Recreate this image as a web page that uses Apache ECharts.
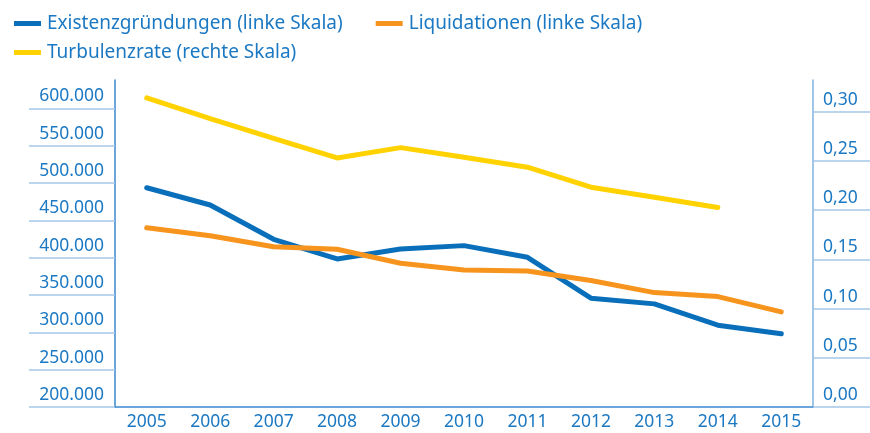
<!DOCTYPE html>
<html>
<head>
<meta charset="utf-8">
<script src="https://cdn.jsdelivr.net/npm/echarts@6/dist/echarts.min.js"></script>
<style>
  html, body { margin: 0; padding: 0; background: #fff; }
  #turbulenz_chart { width: 870px; height: 433px; }
</style>
</head>
<body>
<div id="turbulenz_chart"></div>
<script>
var years = ['2005', '2006', '2007', '2008', '2009', '2010', '2011', '2012', '2013', '2014', '2015'];
var gruendungen = [493600, 470500, 424600, 398300, 411600, 416100, 400500, 345700, 338100, 309600, 298000];
var liquidationen = [440000, 429400, 414700, 411200, 392500, 383600, 382200, 369300, 353200, 347900, 327400];
var turbulenz = [0.314, 0.293, 0.273, 0.253, 0.2635, 0.2537, 0.2436, 0.2233, 0.2131, 0.2026, null];
var leftTicks = [200000, 250000, 300000, 350000, 400000, 450000, 500000, 550000, 600000];
var rightTicks = [0, 0.05, 0.10, 0.15, 0.20, 0.25, 0.30];

var textBlue = '#1b78c2';
var fontName = 'Noto Sans';

var chartTurb = echarts.init(document.getElementById('turbulenz_chart'));

function lineSeries(name, color, data, axis) {
    return {
        name: name,
        type: 'line',
        yAxisIndex: axis,
        data: data,
        symbol: 'none',
        connectNulls: false,
        lineStyle: { color: color, width: 5, cap: 'round', join: 'round' },
        itemStyle: { color: color }
    };
}

var legendBase = {
    left: 9,
    itemWidth: 27,
    itemHeight: 5,
    itemGap: 33,
    icon: 'rect',
    selectedMode: false,
    textStyle: { color: textBlue, fontSize: 19, fontFamily: fontName, padding: [0, 0, 0, 1] }
};

option = {
    animation: false,
    legend: [
        Object.assign({}, legendBase, {
            top: 9,
            data: ['Existenzgründungen (linke Skala)', 'Liquidationen (linke Skala)']
        }),
        Object.assign({}, legendBase, {
            top: 38,
            data: ['Turbulenzrate (rechte Skala)']
        })
    ],
    grid: { left: 115, right: 57, top: 80, bottom: 26 },
    xAxis: {
        type: 'category',
        data: years,
        boundaryGap: true,
        axisLine: { lineStyle: { color: '#3a89cf', width: 1.5 } },
        axisTick: { show: false },
        axisLabel: { color: textBlue, fontSize: 17.5, fontFamily: fontName, margin: 6 }
    },
    yAxis: [
        {
            type: 'value',
            position: 'left',
            min: 200000,
            max: 637900,
            axisLine: { show: true, lineStyle: { color: '#3a89cf', width: 1.5 } },
            axisTick: { show: true, length: 86, customValues: leftTicks, lineStyle: { color: '#a6c7e9', width: 1.5 } },
            axisLabel: {
                customValues: leftTicks,
                color: textBlue, fontSize: 17.5, fontFamily: fontName,
                margin: 11, verticalAlign: 'bottom', lineHeight: 24,
                formatter: function (v) {
                    return String(v).replace(/\B(?=(\d{3})+(?!\d))/g, '.');
                }
            },
            splitLine: { show: false }
        },
        {
            type: 'value',
            position: 'right',
            min: 0,
            max: 0.3322,
            axisLine: { show: true, lineStyle: { color: '#7fb2df', width: 1.5 } },
            axisTick: { show: true, length: 57, customValues: rightTicks, lineStyle: { color: '#a6c7e9', width: 1.5 } },
            axisLabel: {
                customValues: rightTicks,
                color: textBlue, fontSize: 17.5, fontFamily: fontName,
                margin: 10, verticalAlign: 'bottom', lineHeight: 24,
                formatter: function (v) {
                    return v.toFixed(2).replace('.', ',');
                }
            },
            splitLine: { show: false }
        }
    ],
    series: [
        lineSeries('Existenzgründungen (linke Skala)', '#0a6fba', gruendungen, 0),
        lineSeries('Liquidationen (linke Skala)', '#f7941e', liquidationen, 0),
        lineSeries('Turbulenzrate (rechte Skala)', '#ffd200', turbulenz, 1)
    ]
};

chartTurb.setOption(option);
</script>
</body>
</html>
